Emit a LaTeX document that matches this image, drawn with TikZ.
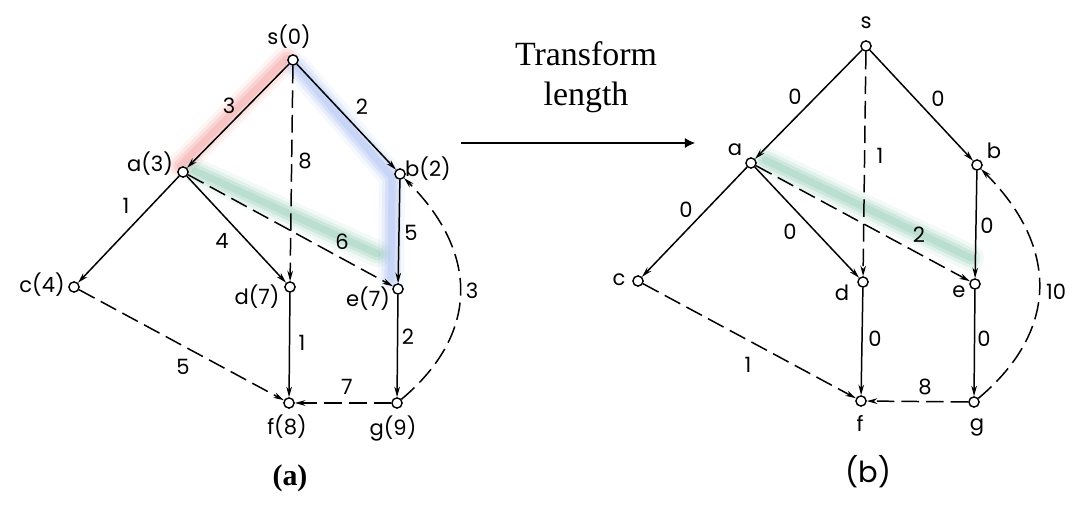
\documentclass[tikz,border=0pt]{standalone}
\usepackage{fontspec}
\setmainfont{Liberation Serif}
\newfontfamily\lett{Poppins}
\usetikzlibrary{arrows.meta}
\definecolor{hlred}{RGB}{240,120,120}
\definecolor{hlblue}{RGB}{130,160,235}
\definecolor{hlgreen}{RGB}{100,180,150}
\newcommand{\hlpath}[2]{%
  \draw[#1, opacity=0.08, line width=15pt, line cap=round, line join=round] #2;
  \draw[#1, opacity=0.12, line width=11pt, line cap=round, line join=round] #2;
  \draw[#1, opacity=0.16, line width=7.5pt, line cap=round, line join=round] #2;
  \draw[#1, opacity=0.18, line width=4pt, line cap=round, line join=round] #2;}
\tikzset{
  vtx/.style={circle, draw, fill=white, line width=0.8pt, inner sep=0pt, minimum size=5.8pt},
  lab/.style={font=\lett\fontsize{12}{14}\selectfont, inner sep=0pt},
  arc/.style={line width=0.85pt, -{Stealth[length=6pt,width=3.2pt]}},
  darc/.style={arc, dash pattern=on 10pt off 4pt},
}
\begin{document}
\begin{tikzpicture}[x=0.02cm,y=-0.02cm]
\useasboundingbox (0,0) rectangle (1080,507);
% highlights
\hlpath{hlred}{(287,58) -- (180,166)}
\hlpath{hlblue}{(297,67) -- (392,177) -- (391,278)}
\hlpath{hlgreen}{(195,171) -- (378,254)}
\hlpath{hlgreen}{(765,160) -- (971,258)}
% ---------- graph (a)
\node[vtx] (Ls) at (293,60) {};
\node[vtx] (La) at (183,172) {};
\node[vtx] (Lb) at (400,174) {};
\node[vtx] (Lc) at (74,287) {};
\node[vtx] (Ld) at (290,287) {};
\node[vtx] (Le) at (398,289) {};
\node[vtx] (Lf) at (289,403) {};
\node[vtx] (Lg) at (397,403) {};
\node[lab] (nLs) at (289,37) {s(0)};
\node[lab] (nLa) at (150,164) {a(3)};
\node[lab] (nLb) at (428,169) {b(2)};
\node[lab] (nLc) at (42,285) {c(4)};
\node[lab] (nLd) at (257,297) {d(7)};
\node[lab] (nLe) at (368,299) {e(7)};
\node[lab] (nLf) at (287,427) {f(8)};
\node[lab] (nLg) at (393,428) {g(9)};
\draw[arc] (Ls) -- (La);
\draw[arc] (Ls) -- (Lb);
\draw[darc] (Ls) -- (Ld);
\draw[arc] (La) -- (Lc);
\draw[arc] (La) -- (Ld);
\draw[darc] (La) -- (Le);
\draw[arc] (Lb) -- (Le);
\draw[darc] (Lc) -- (Lf);
\draw[arc] (Ld) -- (Lf);
\draw[arc] (Le) -- (Lg);
\draw[darc] (Lg) -- (Lf);
\draw[darc] (Lg) to[out=40,in=-45,looseness=1.2] (Lb);
\node[lab] (wLsa) at (229,106) {3};
\node[lab] (wLsb) at (362,107) {2};
\node[lab] (wLsd) at (305,161) {8};
\node[lab] (wLac) at (126,206) {1};
\node[lab] (wLad) at (222,241) {4};
\node[lab] (wLae) at (342,242) {6};
\node[lab] (wLbe) at (411,233) {5};
\node[lab] (wLgb) at (472,291) {3};
\node[lab] (wLdf) at (302,343) {1};
\node[lab] (wLeg) at (408,337) {2};
\node[lab] (wLgf) at (347,387) {7};
\node[lab] (wLcf) at (183,367) {5};
\node[font=\bfseries\fontsize{17}{20}\selectfont, inner sep=0pt] (capA) at (290,478) {(a)};
% ---------- middle arrow
\coordinate (arrS) at (461,143);
\coordinate (arrE) at (695,143);
\draw[line width=0.6pt, -{Latex[length=5.8pt,width=5.8pt]}] (arrS) -- (arrE);
\node[align=center, font=\fontsize{19.3}{23}\selectfont, inner sep=0pt] (tl) at (586,77) {Transform\\length};
% ---------- graph (b)
\node[vtx] (Rs) at (866,46) {};
\node[vtx] (Ra) at (751,163) {};
\node[vtx] (Rb) at (977,165) {};
\node[vtx] (Rc) at (638,281) {};
\node[vtx] (Rd) at (863,282) {};
\node[vtx] (Re) at (975,284) {};
\node[vtx] (Rf) at (861,401) {};
\node[vtx] (Rg) at (974,402) {};
\node[lab] (nRs) at (866,23) {s};
\node[lab] (nRa) at (735,150) {a};
\node[lab] (nRb) at (994,151) {b};
\node[lab] (nRc) at (619,280) {c};
\node[lab] (nRd) at (842,293) {d};
\node[lab] (nRe) at (959,292) {e};
\node[lab] (nRf) at (860,423) {f};
\node[lab] (nRg) at (977,427) {g};
\draw[arc] (Rs) -- (Ra);
\draw[arc] (Rs) -- (Rb);
\draw[darc] (Rs) -- (Rd);
\draw[arc] (Ra) -- (Rc);
\draw[arc] (Ra) -- (Rd);
\draw[darc] (Ra) -- (Re);
\draw[arc] (Rb) -- (Re);
\draw[darc] (Rc) -- (Rf);
\draw[arc] (Rd) -- (Rf);
\draw[arc] (Re) -- (Rg);
\draw[darc] (Rg) -- (Rf);
\draw[darc] (Rg) to[out=40,in=-45,looseness=1.2] (Rb);
\node[lab] (wRsa) at (795,97) {0};
\node[lab] (wRsb) at (938,99) {0};
\node[lab] (wRsd) at (880,156) {1};
\node[lab] (wRac) at (686,210) {0};
\node[lab] (wRad) at (790,232) {0};
\node[lab] (wRae) at (919,235) {2};
\node[lab] (wRbe) at (987,226) {0};
\node[lab] (wRgb) at (1056,292) {10};
\node[lab] (wRdf) at (875,339) {0};
\node[lab] (wReg) at (984,339) {0};
\node[lab] (wRcf) at (748,365) {1};
\node[lab] (wRgf) at (925,387) {8};
\node[font=\lett\fontsize{16.5}{19}\selectfont, inner sep=0pt] (capB) at (868,472) {(b)};
\end{tikzpicture}
\end{document}
